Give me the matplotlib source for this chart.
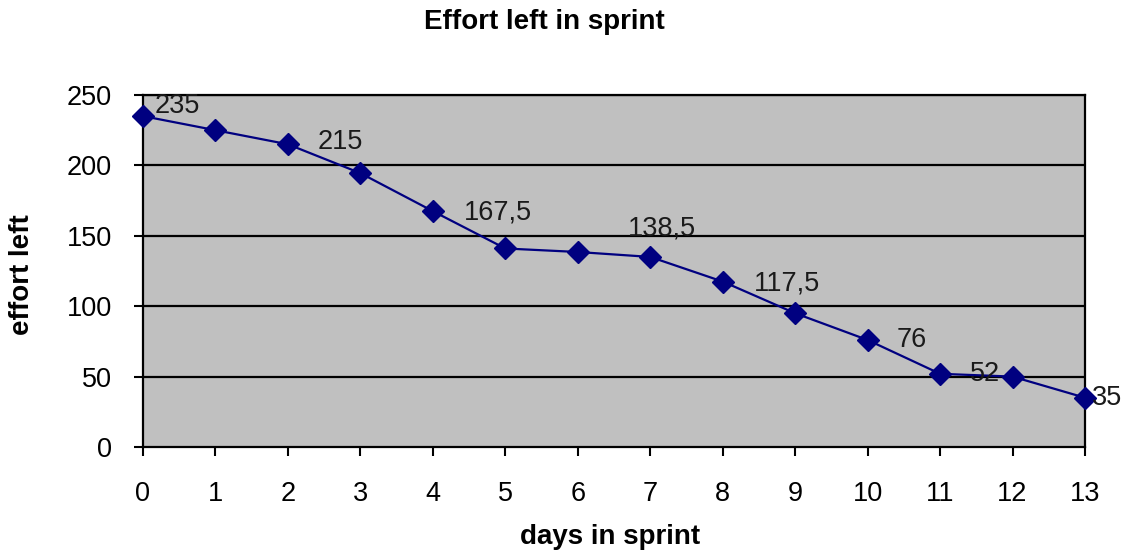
import matplotlib
matplotlib.use("Agg")
import matplotlib.pyplot as plt

days = [0, 1, 2, 3, 4, 5, 6, 7, 8, 9, 10, 11, 12, 13]
effort = [235, 225, 215, 194.5, 167.5, 141, 138.5, 135, 117.5, 95, 76, 52, 50, 35]
labeled_days = [0, 2, 4, 6, 8, 10, 11, 13]
label_offsets_px = [(12, 10), (30, 2), (31, -1), (50, 23), (31, -2), (29, 0), (30, 0), (7, 0)]
yticks = [0, 50, 100, 150, 200, 250]

plt.rcParams['font.family'] = ['Liberation Sans', 'DejaVu Sans']

W, H = 1133, 553
fig = plt.figure(figsize=(W / 100, H / 100), dpi=100)
ax = fig.add_axes([143 / W, 1 - 447 / H, (1085 - 143) / W, (447 - 95) / H])
ax.set_facecolor('#C0C0C0')

ax.set_xlim(0, 13)
ax.set_ylim(0, 250)
ax.set_xticks(days)
ax.set_yticks(yticks)
for y in yticks[1:]:
    ax.axhline(y, color='black', lw=1.6, zorder=1)

ax.plot(days, effort, color='#000080', lw=1.6, marker='D', markersize=11,
        markerfacecolor='#000080', markeredgecolor='#000080', zorder=3, clip_on=False)

for d, (ox, oy) in zip(labeled_days, label_offsets_px):
    v = effort[d]
    txt = f"{v:g}".replace('.', ',')
    ax.annotate(txt, (d, v), xytext=(ox * 0.72, oy * 0.72), textcoords='offset points',
                ha='left', va='center', fontsize=19.5, color='#1a1a1a', zorder=4,
                annotation_clip=False)

for s in ax.spines.values():
    s.set_color('black')
    s.set_linewidth(1.6)

ax.tick_params(axis='both', direction='out', length=6.5, width=1.5, labelsize=19.5,
               colors='black')
ax.tick_params(axis='x', pad=18)
ax.tick_params(axis='y', pad=16)

fig.text(544 / W, 1 - 22 / H, 'Effort left in sprint', ha='center', va='center',
         fontsize=20, fontweight='bold')
fig.text(610 / W, 1 - 537 / H, 'days in sprint', ha='center', va='center',
         fontsize=20, fontweight='bold')
fig.text(22 / W, 1 - 275 / H, 'effort left', ha='center', va='center',
         fontsize=20, fontweight='bold', rotation=90)

fig.savefig('out.png', dpi=100)
